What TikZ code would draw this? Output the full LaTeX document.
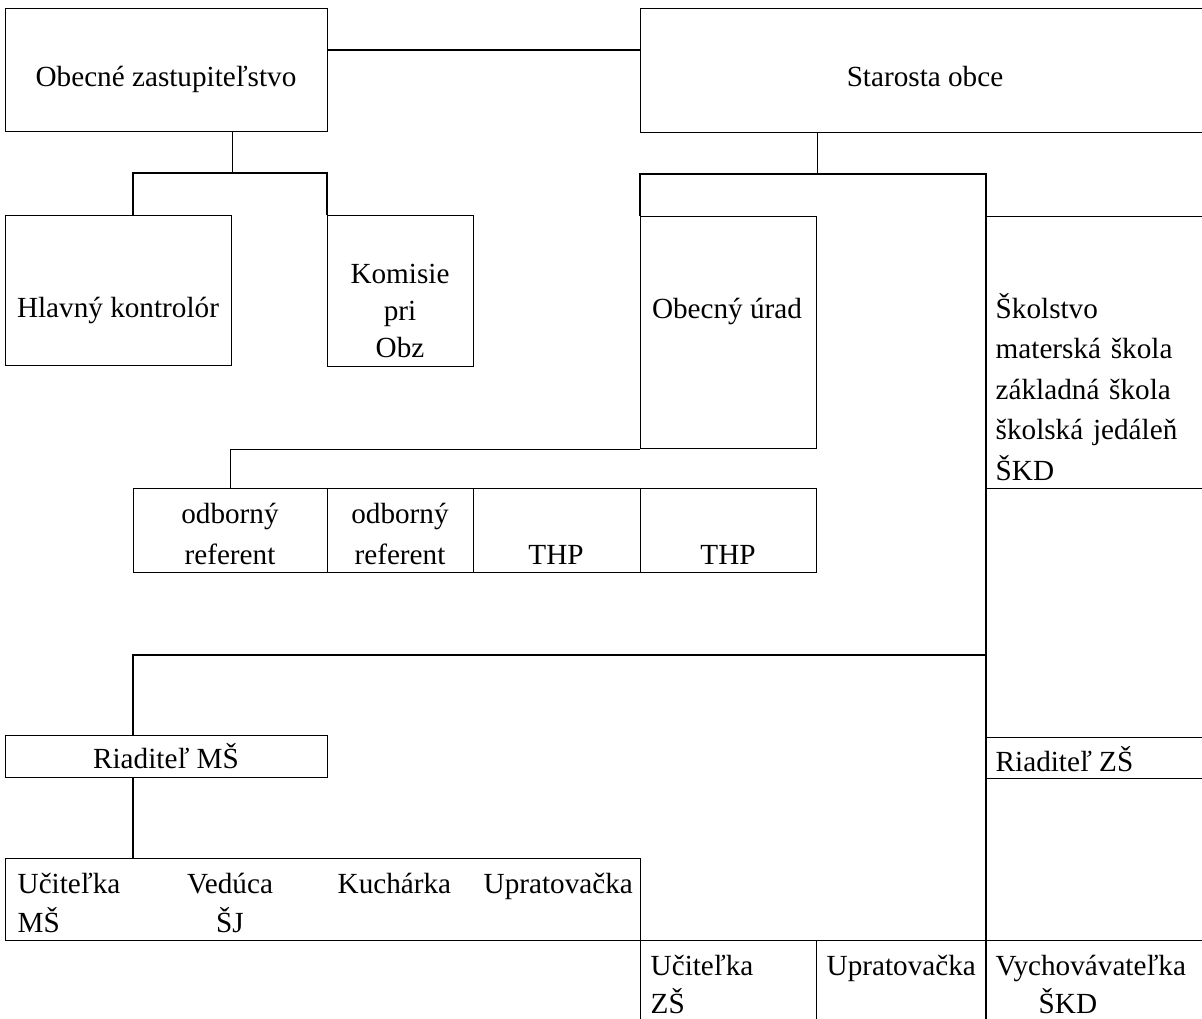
\documentclass[tikz,border=0pt]{standalone}
\usepackage{fontspec}
\setmainfont{Liberation Serif}
\begin{document}
\begin{tikzpicture}[x=1pt, y=-1pt, line width=1.4pt, font=\fontsize{29.2}{40}\selectfont,
  box/.style={draw, inner sep=0pt, anchor=north west},
  lbl/.style={inner sep=0pt, anchor=base}]
\clip (0,0) rectangle (1202,1019);
% boxes
\node[box, minimum width=322pt, minimum height=123pt] (oz) at (5,8) {};
\node[box, minimum width=570pt, minimum height=124pt] (so) at (640,8) {};
\node[box, minimum width=226pt, minimum height=150pt] (hk) at (5,215) {};
\node[box, minimum width=146pt, minimum height=151pt] (kp) at (327,215) {};
\node[box, minimum width=176pt, minimum height=232pt] (ou) at (640,216) {};
\node[box, minimum width=224pt, minimum height=272pt] (sk) at (986,216) {};
\node[box, minimum width=194pt, minimum height=84pt] (r1) at (133,488) {};
\node[box, minimum width=146pt, minimum height=84pt] (r2) at (327,488) {};
\node[box, minimum width=167pt, minimum height=84pt] (r3) at (473,488) {};
\node[box, minimum width=176pt, minimum height=84pt] (r4) at (640,488) {};
\node[box, minimum width=322pt, minimum height=42pt] (rm) at (5,735) {};
\node[box, minimum width=224pt, minimum height=41pt] (rz) at (986,737) {};
\node[box, minimum width=635pt, minimum height=82pt] (mt) at (5,858) {};
\node[box, minimum width=176pt, minimum height=100pt] (z1) at (640,940) {};
\node[box, minimum width=170pt, minimum height=100pt] (z2) at (816,940) {};
\node[box, minimum width=224pt, minimum height=100pt] (z3) at (986,940) {};
% connectors
\draw ([yshift=-42pt]oz.north east) -- ([yshift=-42pt]so.north west);
\draw (oz.south -| hk.east) -- ++(0,42);
\draw (hk.north -| r1.west) -- ++(0,-42) -| (kp.north west);
\draw (so.south -| ou.east) -- ++(0,42);
\draw (ou.north west) -- ++(0,-42) -| (z3.south west);
\draw (ou.south west) -| (r1.north);
\draw (rm.north -| r1.west) -- ++(0,-80) -| (sk.south west);
\draw (rm.south -| r1.west) -- (mt.north -| r1.west);
% texts
\node[lbl] (toz) at (166,87) {Obecné zastupiteľstvo};
\node[lbl] (tso) at (925,87) {Starosta obce};
\node[lbl] (thk) at (118,317) {Hlavný kontrolór};
\node[lbl, align=center, text width=140pt, font=\fontsize{29.2}{37}\selectfont] (tkp) at (400,283) {Komisie\\pri\\Obz};
\node[lbl] (tou) at (727,318) {Obecný úrad};
\node[lbl, anchor=base west, align=left, text width=215pt, font=\fontsize{29.2}{40.5}\selectfont] (tsk) at (995,318) {Školstvo\\materská škola\\základná škola\\školská jedáleň\\ŠKD};
\node[lbl, align=center, text width=190pt, font=\fontsize{29.2}{41}\selectfont] (tr1) at (230,523) {odborný\\referent};
\node[lbl, align=center, text width=140pt, font=\fontsize{29.2}{41}\selectfont] (tr2) at (400,523) {odborný\\referent};
\node[lbl] (tr3) at (556,564) {THP};
\node[lbl] (tr4) at (728,564) {THP};
\node[lbl] (trm) at (166,768) {Riaditeľ MŠ};
\node[lbl, anchor=base west] (trz) at (995,771) {Riaditeľ ZŠ};
\node[lbl, anchor=base west, align=left, text width=150pt, font=\fontsize{29.2}{39}\selectfont] (tm1) at (17,893) {Učiteľka\\MŠ};
\node[lbl, align=center, text width=100pt, font=\fontsize{29.2}{39}\selectfont] (tm2) at (230,893) {Vedúca\\ŠJ};
\node[lbl, anchor=base west] (tm3) at (337,893) {Kuchárka};
\node[lbl, anchor=base west] (tm4) at (483,893) {Upratovačka};
\node[lbl, anchor=base west, align=left, text width=150pt, font=\fontsize{29.2}{38}\selectfont] (tz1) at (650,975) {Učiteľka\\ZŠ};
\node[lbl, anchor=base west] (tz2) at (826,975) {Upratovačka};
\node[lbl, anchor=base west, align=left, text width=210pt, font=\fontsize{29.2}{38}\selectfont] (tz3) at (995,975) {Vychovávateľka\\\hspace*{43pt}ŠKD};
\end{tikzpicture}
\end{document}
